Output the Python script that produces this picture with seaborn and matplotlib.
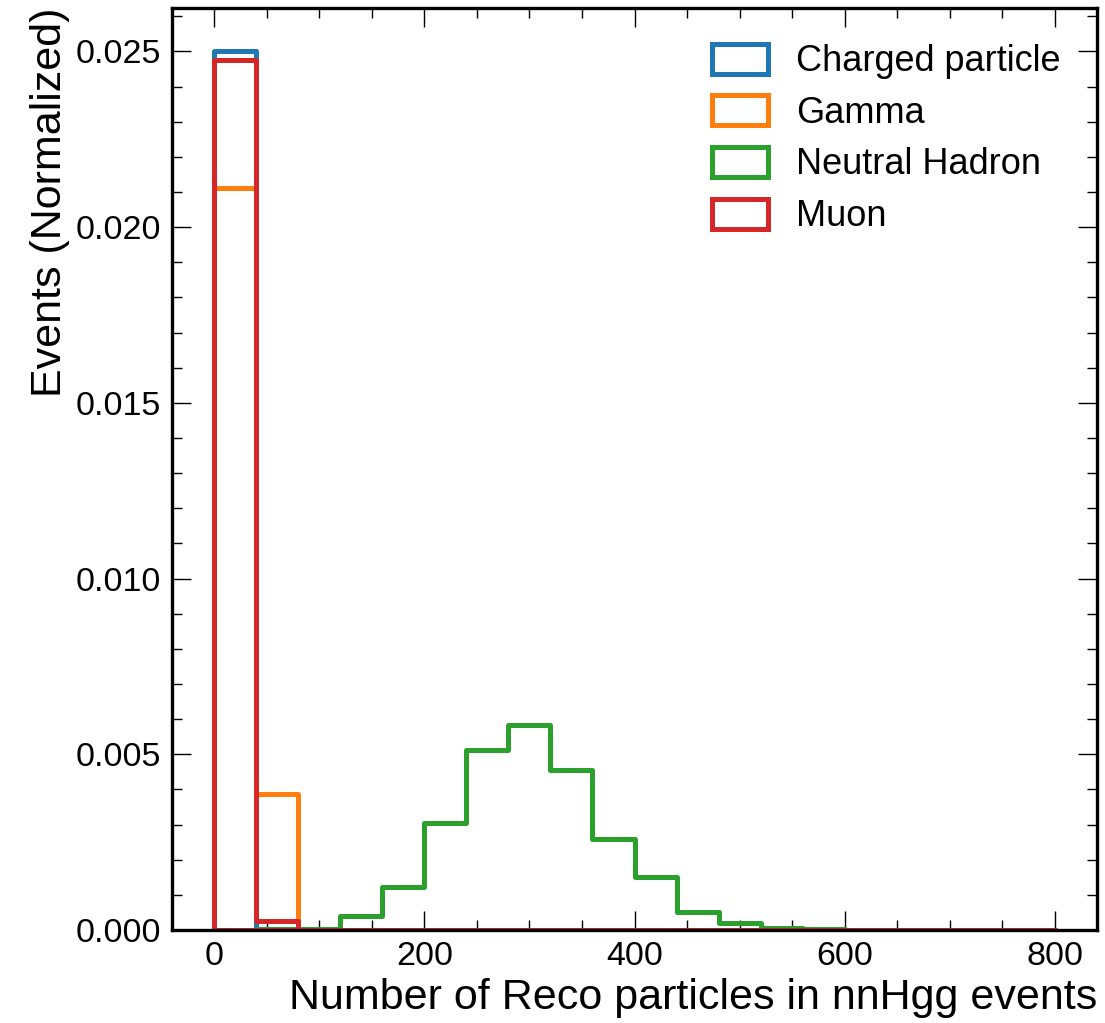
import numpy as np
import pandas as pd
import matplotlib
matplotlib.use("Agg")
import matplotlib.pyplot as plt
import seaborn as sns
from matplotlib.colors import to_rgba
from matplotlib.ticker import MultipleLocator, FormatStrFormatter

# Normalized (density) histogram contents, 20 bins of width 40 from 0 to 800
bin_edges = list(range(0, 801, 40))

charged_particle = [0.02500, 0.00002, 0, 0, 0, 0, 0, 0, 0, 0,
                    0, 0, 0, 0, 0, 0, 0, 0, 0, 0]
gamma = [0.02112, 0.00388, 0, 0, 0, 0, 0, 0, 0, 0,
         0, 0, 0, 0, 0, 0, 0, 0, 0, 0]
neutral_hadron = [0.00001, 0.00002, 0.00004, 0.00040, 0.00123, 0.00305,
                  0.00513, 0.00584, 0.00456, 0.00258, 0.00152, 0.00052,
                  0.00020, 0.00006, 0.00002, 0.00001, 0, 0, 0, 0]
muon = [0.02477, 0.00025, 0, 0, 0, 0, 0, 0, 0, 0,
        0, 0, 0, 0, 0, 0, 0, 0, 0, 0]

labels = ["Charged particle", "Gamma", "Neutral Hadron", "Muon"]
series = [charged_particle, gamma, neutral_hadron, muon]
colors = ["#1f77b4", "#ff7f0e", "#2ca02c", "#d62728"]

edges = np.asarray(bin_edges, dtype=float)
centers = 0.5 * (edges[:-1] + edges[1:])
df = pd.concat(
    [pd.DataFrame({"n": centers, "w": vals, "kind": lab})
     for lab, vals in zip(labels, series)],
    ignore_index=True,
)

sns.set_style("ticks")
plt.rcParams["font.family"] = ["Liberation Sans", "DejaVu Sans"]
plt.rcParams["text.color"] = "black"
plt.rcParams["axes.labelcolor"] = "black"
plt.rcParams["xtick.color"] = "black"
plt.rcParams["ytick.color"] = "black"

fig = plt.figure(figsize=(11.05, 10.23), dpi=100)
ax = fig.add_axes([172 / 1105, 1 - 930 / 1023, (1097 - 172) / 1105, (930 - 7.5) / 1023])

sns.histplot(
    data=df, x="n", weights="w", hue="kind", hue_order=labels,
    palette=colors, bins=bin_edges, stat="count", element="step",
    fill=True, facecolor="none", linewidth=3.6, ax=ax, legend=True,
)

# stack the outlines so later species sit on top of earlier ones
rgba = [to_rgba(c) for c in colors]
for coll in ax.collections:
    ec = tuple(coll.get_edgecolor()[0])
    for i, c in enumerate(rgba):
        if np.allclose(ec, c, atol=1e-3):
            coll.set_zorder(2 + i)

ax.set_xlim(-40, 840)
ax.set_ylim(0, 0.02625)
ax.xaxis.set_major_locator(MultipleLocator(200))
ax.xaxis.set_minor_locator(MultipleLocator(50))
ax.yaxis.set_major_locator(MultipleLocator(0.005))
ax.yaxis.set_minor_locator(MultipleLocator(0.001))
ax.yaxis.set_major_formatter(FormatStrFormatter("%.3f"))
ax.tick_params(which="both", direction="in", top=True, right=True,
               labelsize=24.5, width=1.0, color="black", pad=8)
ax.tick_params(which="major", length=14)
ax.tick_params(which="minor", length=7)
for sp in ax.spines.values():
    sp.set_linewidth(2.4)
    sp.set_color("black")
    sp.set_zorder(10)

ax.set_xlabel("Number of Reco particles in nnHgg events", fontsize=31,
              loc="right")
ax.set_ylabel("Events (Normalized)", fontsize=31, loc="top")

leg = ax.get_legend()
handles = leg.legend_handles
leg.remove()
ax.legend(handles, labels, loc="upper right", frameon=False, fontsize=26,
          handlelength=1.55, handleheight=0.9, labelspacing=0.45,
          borderaxespad=0.6)

fig.savefig("out.png", dpi=100)
